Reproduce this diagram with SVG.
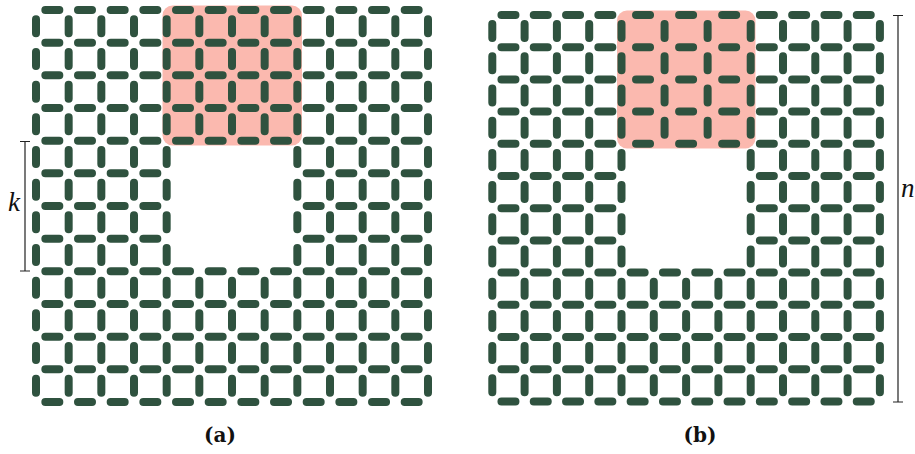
<svg xmlns="http://www.w3.org/2000/svg" width="915" height="454" viewBox="0 0 915 454">
<style>
.bg{fill:#ffffff}
.hl{fill:#fbb9af}
.e{fill:none;stroke:#2f523f;stroke-width:8;stroke-linecap:round}
.ah{stroke-dasharray:14 18.67}
.bh{stroke-dasharray:14 18.3}
.bv{stroke-dasharray:14 18.2}
.br{stroke-dasharray:14 29.07}
.dim{fill:none;stroke:#222;stroke-width:1.2}
.lab{font-family:"Liberation Serif","DejaVu Serif",serif;font-style:italic;fill:#111}
.cap{font-family:"DejaVu Serif","Liberation Serif",serif;font-weight:bold;font-size:20px;fill:#111;text-anchor:middle}
</style>
<rect class="bg" x="0" y="0" width="915" height="454"/>

<g id="panel-a">
  <rect id="a-highlight" class="hl" x="162.5" y="5.5" width="139.5" height="140" rx="10"/>
  <g id="a-edges">
    <path class="e ah" d="M45.33 10H418.67M45.33 42.67H418.67M45.33 75.33H418.67M45.33 108H418.67M45.33 140.67H418.67M45.33 271.33H418.67M45.33 304H418.67M45.33 336.67H418.67M45.33 369.33H418.67M45.33 402H418.67"/>
    <path class="e ah" d="M45.33 173.33H157.33M306.67 173.33H418.67M45.33 206H157.33M306.67 206H418.67M45.33 238.67H157.33M306.67 238.67H418.67"/>
    <path class="e ah" d="M36 19.33V392.67M68.67 19.33V392.67M101.33 19.33V392.67M134 19.33V392.67M166.67 19.33V392.67M297.33 19.33V392.67M330 19.33V392.67M362.67 19.33V392.67M395.33 19.33V392.67M428 19.33V392.67"/>
    <path class="e ah" d="M199.33 19.33V131.33M199.33 280.67V392.67M232 19.33V131.33M232 280.67V392.67M264.67 19.33V131.33M264.67 280.67V392.67"/>
  </g>
  <g id="a-k">
    <path class="dim" d="M25 141.5V271M20 141.5H30M20 271H30"/>
    <text class="lab" x="8" y="211" font-size="27">k</text>
  </g>
  <text id="a-caption" class="cap" x="220" y="442">(a)</text>
</g>

<g id="panel-b">
  <rect id="b-highlight" class="hl" x="617" y="10.5" width="138.5" height="138" rx="10"/>
  <g id="b-edges">
    <path class="e bh" d="M501.45 272.6H870.75M501.45 304.8H870.75M501.45 337H870.75M501.45 369.2H870.75M501.45 401.4H870.75"/>
    <path class="e bh" d="M501.45 15H612.35M759.85 15H870.75M501.45 47.2H612.35M759.85 47.2H870.75M501.45 79.4H612.35M759.85 79.4H870.75M501.45 111.6H612.35M759.85 111.6H870.75M501.45 143.8H612.35M759.85 143.8H870.75M501.45 176H612.35M759.85 176H870.75M501.45 208.2H612.35M759.85 208.2H870.75M501.45 240.4H612.35M759.85 240.4H870.75"/>
    <path class="e br" d="M636.03 15H736.17M636.03 47.2H736.17M636.03 79.4H736.17M636.03 111.6H736.17M636.03 143.8H736.17"/>
    <path class="e bv" d="M492.3 24.1V392.3M524.6 24.1V392.3M556.9 24.1V392.3M589.2 24.1V392.3M621.5 24.1V392.3M750.7 24.1V392.3M783 24.1V392.3M815.3 24.1V392.3M847.6 24.1V392.3M879.9 24.1V392.3"/>
    <path class="e bv" d="M653.8 281.7V392.3M686.1 281.7V392.3M718.4 281.7V392.3"/>
    <path class="e bv" d="M664.57 24.1V134.7M707.63 24.1V134.7"/>
  </g>
  <g id="b-n">
    <path class="dim" d="M898 15.5V402M893 15.5H903M893 402H903"/>
    <text class="lab" x="901" y="197" font-size="27">n</text>
  </g>
  <text id="b-caption" class="cap" x="700" y="442">(b)</text>
</g>
</svg>
